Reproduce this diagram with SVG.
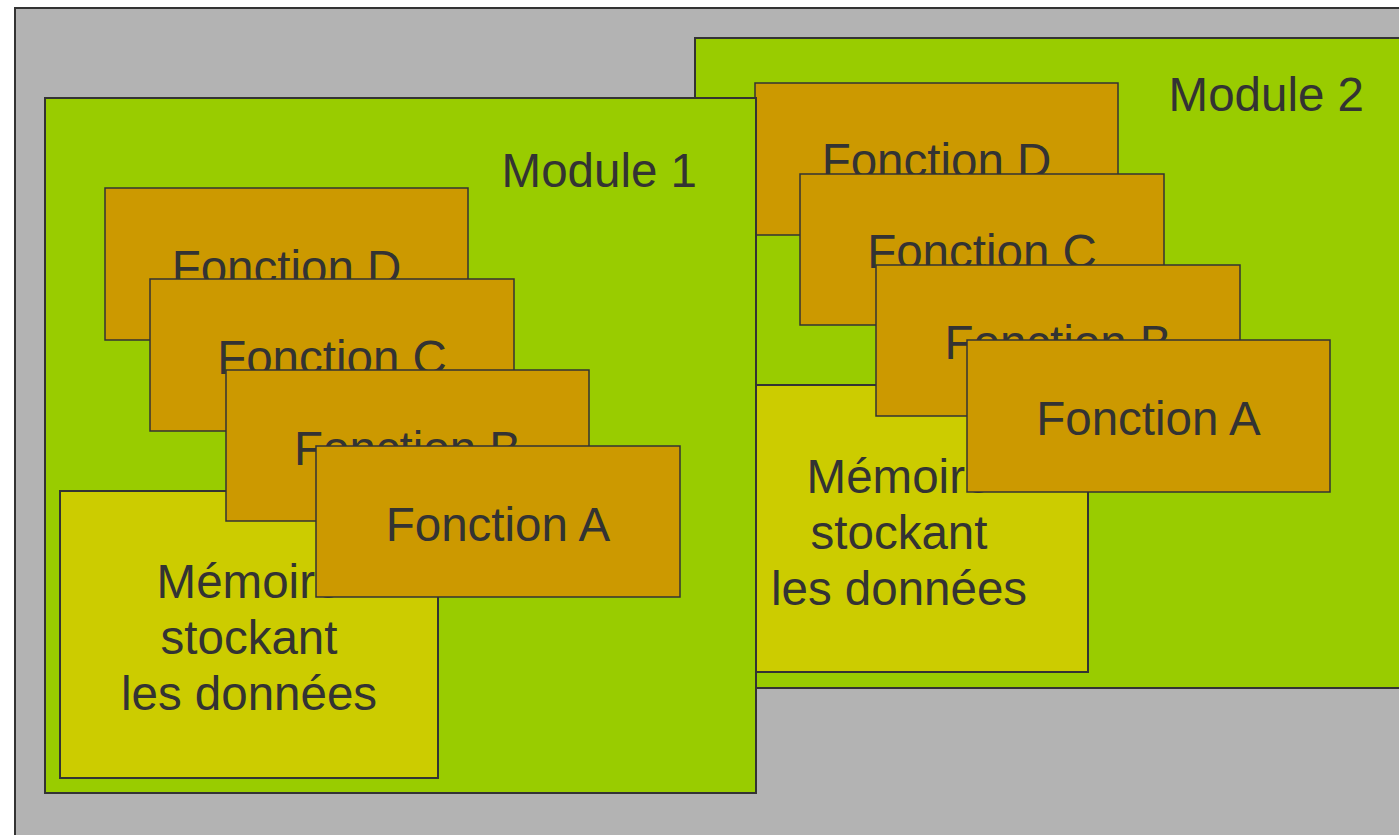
<svg xmlns="http://www.w3.org/2000/svg" width="1399" height="835" viewBox="0 0 1399 835">
<style>
.bg{fill:#b3b3b3;stroke:#333;stroke-width:2}
.mod{fill:#99cc00;stroke:#333;stroke-width:2}
.mem{fill:#cccc00;stroke:#333;stroke-width:2}
.fn{fill:#cc9900;stroke:#333;stroke-width:1.5}
text{font-family:"Liberation Sans",Arial,sans-serif;font-size:47.5px;fill:#333}
.c{text-anchor:middle}
.r{text-anchor:end}
</style>
<rect width="1399" height="835" fill="#ffffff"/>
<rect class="bg" x="15" y="8" width="1400" height="840"/>
<g id="module2">
<rect class="mod" x="695" y="38" width="720" height="650"/>
<text class="r" x="1364" y="111">Module 2</text>
</g>
<g id="m2-memoire">
<rect class="mem" x="710" y="385" width="378" height="287"/>
<text class="c" x="899" y="493">Mémoire</text>
<text class="c" x="899" y="549">stockant</text>
<text class="c" x="899" y="605">les données</text>
</g>
<g id="m2-fonction-d">
<rect class="fn" x="755" y="83" width="363" height="152"/>
<text class="c" x="936.5" y="177">Fonction D</text>
</g>
<g id="m2-fonction-c">
<rect class="fn" x="800" y="174" width="364" height="151"/>
<text class="c" x="982" y="268">Fonction C</text>
</g>
<g id="m2-fonction-b">
<rect class="fn" x="876" y="265" width="364" height="151"/>
<text class="c" x="1058" y="359">Fonction B</text>
</g>
<g id="m2-fonction-a">
<rect class="fn" x="967" y="340" width="363" height="152"/>
<text class="c" x="1148.5" y="435">Fonction A</text>
</g>
<g id="module1">
<rect class="mod" x="45" y="98" width="711" height="695"/>
<text class="r" x="697" y="187">Module 1</text>
</g>
<g id="m1-memoire">
<rect class="mem" x="60" y="491" width="378" height="287"/>
<text class="c" x="249" y="598">Mémoire</text>
<text class="c" x="249" y="654">stockant</text>
<text class="c" x="249" y="710">les données</text>
</g>
<g id="m1-fonction-d">
<rect class="fn" x="105" y="188" width="363" height="152"/>
<text class="c" x="286.5" y="284">Fonction D</text>
</g>
<g id="m1-fonction-c">
<rect class="fn" x="150" y="279" width="364" height="152"/>
<text class="c" x="332" y="374">Fonction C</text>
</g>
<g id="m1-fonction-b">
<rect class="fn" x="226" y="370" width="363" height="151"/>
<text class="c" x="407.5" y="465">Fonction B</text>
</g>
<g id="m1-fonction-a">
<rect class="fn" x="316" y="446" width="364" height="151"/>
<text class="c" x="498" y="541">Fonction A</text>
</g>
<g id="connectors"/>
</svg>
